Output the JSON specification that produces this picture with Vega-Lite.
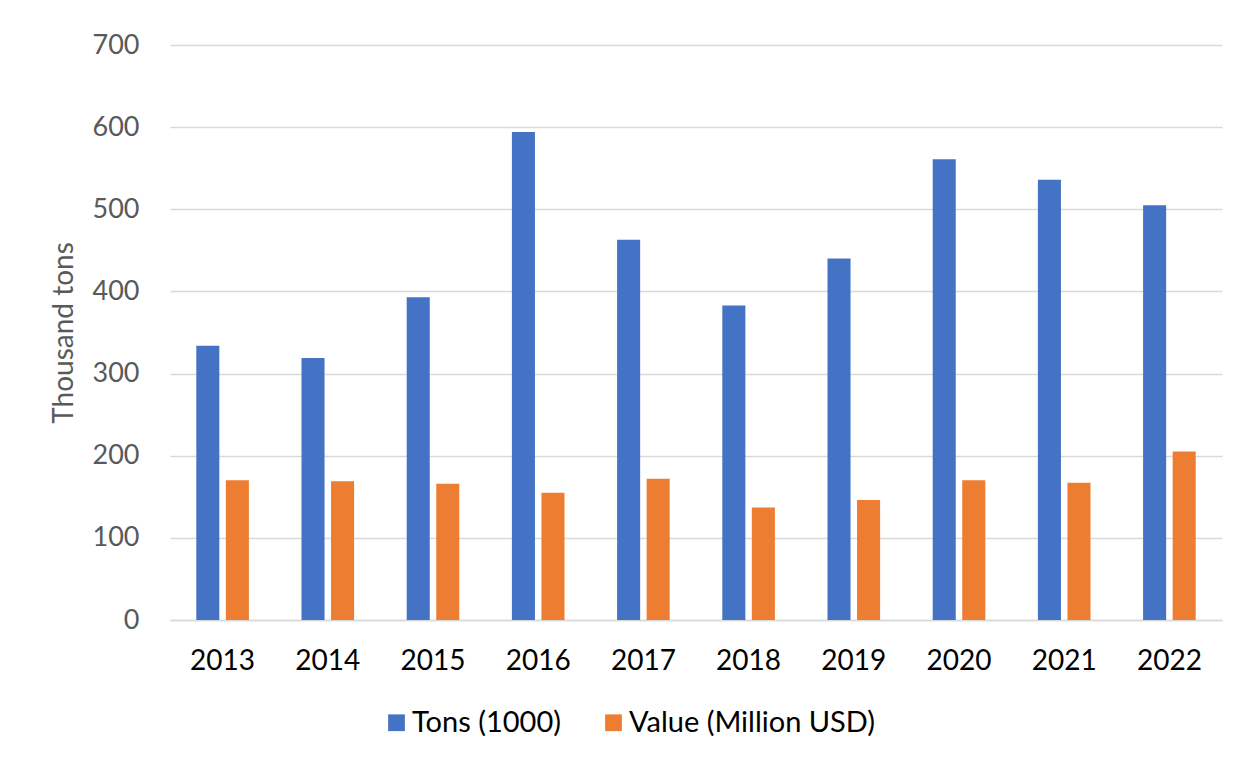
{
  "$schema": "https://vega.github.io/schema/vega-lite/v6.json",
  "autosize": {"type": "none"},
  "width": 1052,
  "height": 575,
  "padding": {"left": 170, "top": 45, "right": 16, "bottom": 141},
  "background": "white",
  "data": {
    "values": [
      {"year": "2013", "series": "Tons (1000)", "value": 334},
      {"year": "2014", "series": "Tons (1000)", "value": 319},
      {"year": "2015", "series": "Tons (1000)", "value": 393},
      {"year": "2016", "series": "Tons (1000)", "value": 594},
      {"year": "2017", "series": "Tons (1000)", "value": 463},
      {"year": "2018", "series": "Tons (1000)", "value": 383},
      {"year": "2019", "series": "Tons (1000)", "value": 440},
      {"year": "2020", "series": "Tons (1000)", "value": 561},
      {"year": "2021", "series": "Tons (1000)", "value": 536},
      {"year": "2022", "series": "Tons (1000)", "value": 505},
      {"year": "2013", "series": "Value (Million USD)", "value": 170},
      {"year": "2014", "series": "Value (Million USD)", "value": 169},
      {"year": "2015", "series": "Value (Million USD)", "value": 166},
      {"year": "2016", "series": "Value (Million USD)", "value": 155},
      {"year": "2017", "series": "Value (Million USD)", "value": 172},
      {"year": "2018", "series": "Value (Million USD)", "value": 137},
      {"year": "2019", "series": "Value (Million USD)", "value": 146},
      {"year": "2020", "series": "Value (Million USD)", "value": 170},
      {"year": "2021", "series": "Value (Million USD)", "value": 167},
      {"year": "2022", "series": "Value (Million USD)", "value": 205}
    ]
  },
  "mark": {"type": "bar"},
  "encoding": {
    "x": {
      "field": "year",
      "type": "nominal",
      "scale": {"paddingInner": 0.5, "paddingOuter": 0.25},
      "axis": {
        "title": null,
        "labelAngle": 0,
        "labelFont": "Lato",
        "labelFontSize": 28,
        "labelColor": "#000000",
        "labelPadding": 27,
        "ticks": false,
        "domainColor": "#D9D9D9",
        "domainWidth": 1.5
      }
    },
    "xOffset": {
      "field": "series",
      "type": "nominal",
      "scale": {"paddingInner": 0.22, "paddingOuter": 0}
    },
    "y": {
      "field": "value",
      "type": "quantitative",
      "scale": {"domain": [0, 700], "nice": false},
      "axis": {
        "title": "Thousand tons",
        "titleFont": "Lato",
        "titleFontSize": 28,
        "titleFontWeight": "normal",
        "titleColor": "#595959",
        "titlePadding": 14,
        "values": [0, 100, 200, 300, 400, 500, 600, 700],
        "labelFont": "Lato",
        "labelFontSize": 27,
        "labelColor": "#595959",
        "labelPadding": 31,
        "ticks": false,
        "domain": false,
        "grid": true,
        "gridColor": "#D9D9D9",
        "gridWidth": 1.5
      }
    },
    "color": {
      "field": "series",
      "type": "nominal",
      "scale": {
        "domain": ["Tons (1000)", "Value (Million USD)"],
        "range": ["#4472C4", "#ED7D31"]
      },
      "legend": {
        "title": null,
        "orient": "none",
        "direction": "horizontal",
        "legendX": 212,
        "legendY": 663,
        "symbolType": "square",
        "symbolSize": 280,
        "symbolStrokeWidth": 0,
        "labelFont": "Lato",
        "labelFontSize": 29,
        "labelColor": "#000000",
        "labelOffset": 1,
        "labelLimit": 0,
        "columnPadding": 38
      }
    }
  },
  "config": {
    "view": {"stroke": null}
  }
}
